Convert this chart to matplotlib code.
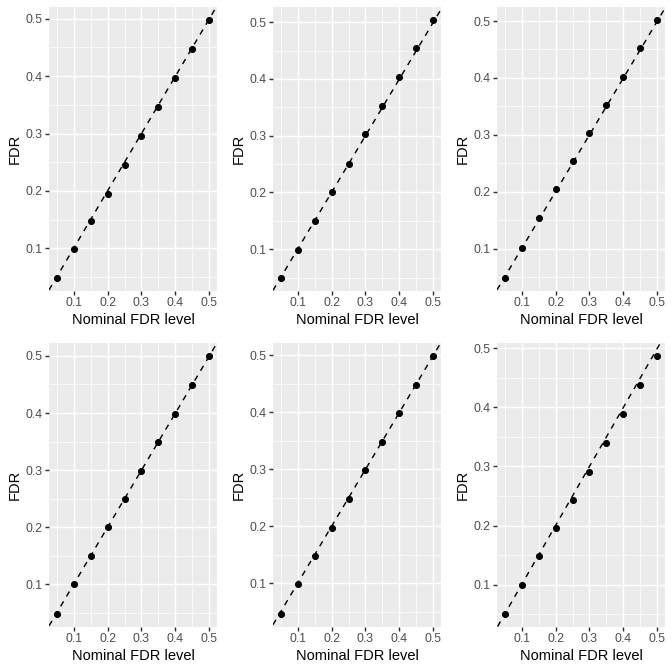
import numpy as np
import matplotlib
matplotlib.use('Agg')
import matplotlib.pyplot as plt
from matplotlib.ticker import MultipleLocator, AutoMinorLocator, FormatStrFormatter

plt.rcParams['font.family'] = ['Liberation Sans', 'DejaVu Sans']

nominal = [0.05, 0.10, 0.15, 0.20, 0.25, 0.30, 0.35, 0.40, 0.45, 0.50]
fdr_1 = [0.049, 0.098, 0.147, 0.195, 0.245, 0.296, 0.346, 0.396, 0.447, 0.498]
fdr_2 = [0.050, 0.099, 0.150, 0.200, 0.251, 0.303, 0.353, 0.404, 0.454, 0.504]
fdr_3 = [0.049, 0.101, 0.153, 0.205, 0.254, 0.304, 0.353, 0.402, 0.452, 0.502]
fdr_4 = [0.049, 0.100, 0.149, 0.200, 0.249, 0.299, 0.349, 0.399, 0.449, 0.500]
fdr_5 = [0.047, 0.099, 0.148, 0.198, 0.248, 0.298, 0.348, 0.398, 0.448, 0.499]
fdr_6 = [0.051, 0.100, 0.149, 0.195, 0.243, 0.291, 0.339, 0.388, 0.437, 0.487]
panels = [fdr_1, fdr_2, fdr_3, fdr_4, fdr_5, fdr_6]


def expand(v, frac=0.05):
    # ggplot style 5% expansion of the data range
    lo, hi = min(v), max(v)
    pad = (hi - lo) * frac
    return lo - pad, hi + pad


W, H = 672, 672
fig = plt.figure(figsize=(7, 7), dpi=96)

for k, fdr in enumerate(panels):
    r, c = divmod(k, 3)
    left = (224 * c + 49) / W
    bottom = 1 - (336 * r + 290.5) / H
    ax = fig.add_axes([left, bottom, 168 / W, 283.5 / H])
    ax.set_facecolor('#EBEBEB')
    for s in ax.spines.values():
        s.set_visible(False)

    ax.plot(nominal, fdr, 'o', color='black', markersize=4.3, zorder=3)
    ax.axline((0, 0), slope=1, color='black', linewidth=1.07,
              linestyle=(0, (4, 4)), zorder=2)
    ax.set_xlim(*expand(nominal))
    ax.set_ylim(*expand(fdr))

    ax.xaxis.set_major_locator(MultipleLocator(0.1))
    ax.yaxis.set_major_locator(MultipleLocator(0.1))
    ax.xaxis.set_minor_locator(AutoMinorLocator(2))
    ax.yaxis.set_minor_locator(AutoMinorLocator(2))
    ax.xaxis.set_major_formatter(FormatStrFormatter('%.1f'))
    ax.yaxis.set_major_formatter(FormatStrFormatter('%.1f'))

    ax.grid(which='major', color='white', linewidth=1.07)
    ax.grid(which='minor', color='white', linewidth=0.53)
    ax.set_axisbelow(True)
    ax.tick_params(which='major', length=2.75, width=1.07, color='#333333',
                   labelsize=9.2, labelcolor='#4D4D4D', pad=2.2)
    ax.tick_params(which='minor', length=0)

    ax.set_xlabel('Nominal FDR level', fontsize=11, labelpad=2.75)
    ax.set_ylabel('FDR', fontsize=11, labelpad=2.75)

fig.savefig('out.png', dpi=96, facecolor='white')
